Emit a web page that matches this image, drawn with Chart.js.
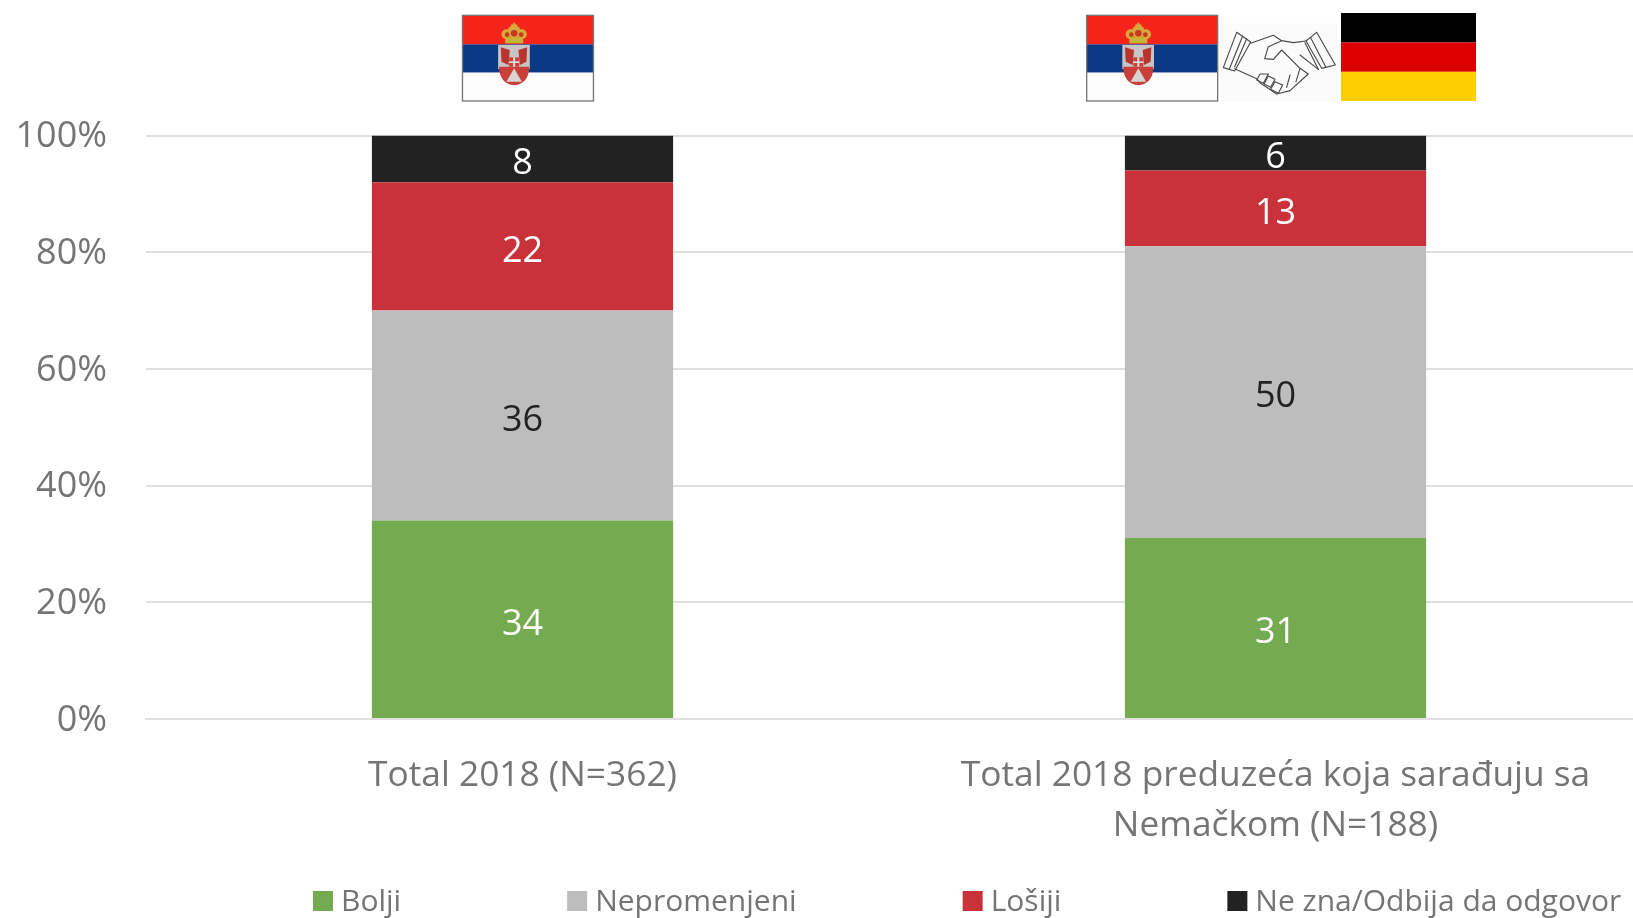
<!DOCTYPE html>
<html><head><meta charset="utf-8">
<style>html,body{margin:0;padding:0;background:#fff;overflow:hidden;width:1633px;height:918px}#wrap{position:absolute;left:0;top:0;width:1652px;height:918px}</style>
<script src="https://cdn.jsdelivr.net/npm/chart.js@4"></script>
</head><body><div id="wrap"><canvas id="c" width="1652" height="918"></canvas></div>
<script>
const categories = [["Total 2018 (N=362)"], ["Total 2018 preduzeća koja sarađuju sa", "Nemačkom (N=188)"]];
const bolji = [34, 31];
const nepromenjeni = [36, 50];
const losiji = [22, 13];
const neZna = [8, 6];
const seriesNames = ["Bolji", "Nepromenjeni", "Lošiji", "Ne zna/Odbija da odgovor"];
const seriesColors = ["#75AB50", "#BDBDBD", "#C9323B", "#222222"];
const labelColors = ["#ffffff", "#222222", "#ffffff", "#ffffff"];
const FONT = '"Open Sans", sans-serif';
const GREY = '#757575';

const valueLabels = {
  id: 'valueLabels',
  afterDatasetsDraw(chart) {
    const ctx = chart.ctx; ctx.save();
    ctx.font = '36px ' + FONT; ctx.textAlign = 'center'; ctx.textBaseline = 'middle';
    chart.data.datasets.forEach((ds, i) => {
      chart.getDatasetMeta(i).data.forEach((bar, j) => {
        ctx.fillStyle = labelColors[i];
        ctx.fillText(String(ds.data[j]), bar.x, (bar.y + bar.base) / 2 + 5);
      });
    });
    ctx.restore();
  }
};
const bottomLegend = {
  id: 'bottomLegend',
  afterDraw(chart) {
    const ctx = chart.ctx; ctx.save();
    ctx.font = '30px ' + FONT; ctx.textBaseline = 'middle'; ctx.textAlign = 'left';
    let x = 313;
    chart.data.datasets.forEach(ds => {
      ctx.fillStyle = ds.backgroundColor; ctx.fillRect(x, 891, 20, 20);
      ctx.fillStyle = GREY; ctx.fillText(ds.label, x + 28, 902);
      x += 28 + ctx.measureText(ds.label).width + 166;
    });
    ctx.restore();
  }
};
function serbia(ctx, ox) {
  ctx.save(); ctx.translate(ox, 0); ctx.scale(1/3, 1/3);
  const L=80,R=473,W=R-L;
  ctx.fillStyle='#F5241B'; ctx.fillRect(L,46,W,87);
  ctx.fillStyle='#0B3A85'; ctx.fillRect(L,133,W,85);
  ctx.fillStyle='#FCFCFC'; ctx.fillRect(L,218,W,85);
  ctx.strokeStyle='#777'; ctx.lineWidth=4; ctx.strokeRect(L,46,W,257);
  // crown
  ctx.fillStyle='#D9A83A';
  [[212,103,15],[258,103,15],[235,96,20]].forEach(c=>{ctx.beginPath();ctx.arc(c[0],c[1],c[2],0,7);ctx.fill();});
  ctx.fillStyle='#C13A22';
  [[214,104,7],[256,104,7],[235,100,10]].forEach(c=>{ctx.beginPath();ctx.arc(c[0],c[1],c[2],0,7);ctx.fill();});
  ctx.fillStyle='#C6B23A'; ctx.fillRect(208,114,54,16);
  ctx.fillStyle='#D9A83A'; ctx.fillRect(232,68,6,20); ctx.fillRect(226,73,18,5);
  // shield: eagle wings
  ctx.fillStyle='#C8C4C4'; ctx.fillRect(187,135,95,72);
  ctx.fillStyle='#C9403A'; ctx.beginPath();
  ctx.moveTo(190,200); ctx.lineTo(280,200); ctx.quadraticCurveTo(280,250,235,256); ctx.quadraticCurveTo(190,250,190,200); ctx.fill();
  ctx.fillStyle='#B8352F';
  ctx.beginPath(); ctx.moveTo(195,142); ctx.lineTo(222,150); ctx.lineTo(218,195); ctx.lineTo(197,185); ctx.closePath(); ctx.fill();
  ctx.beginPath(); ctx.moveTo(274,142); ctx.lineTo(248,150); ctx.lineTo(252,195); ctx.lineTo(272,185); ctx.closePath(); ctx.fill();
  ctx.fillStyle='#C9403A'; ctx.fillRect(220,172,30,28);
  ctx.fillStyle='#E4E0E0'; ctx.fillRect(232,172,6,28); ctx.fillRect(220,184,30,5);
  ctx.fillStyle='#D8D4D4'; ctx.beginPath(); ctx.moveTo(235,205); ctx.lineTo(258,245); ctx.lineTo(212,245); ctx.closePath(); ctx.fill();
  ctx.restore();
}
function handshake(ctx) {
  ctx.save(); ctx.translate(1060, 0); ctx.scale(1/3, 1/3);
  ctx.fillStyle='#FBFBFB'; ctx.fillRect(482,70,352,235);
  ctx.strokeStyle='#4A4A4A'; ctx.lineWidth=3.4; ctx.lineJoin='round'; ctx.lineCap='round';
  const paths=[
    [[530,97],[490,203],[524,213],[572,126],[530,97]],
    [[548,108],[508,207]],[[560,116],[524,200]],
    [[770,97],[738,123],[785,205],[826,195],[770,97]],
    [[752,113],[797,200]],[[735,128],[775,208]],
    [[572,130],[640,106],[665,122],[625,140],[614,176],[640,178],[665,150],[720,205],[745,222],[725,240],[690,272],[650,282],[600,248],[590,236],[524,206]],
    [[665,122],[700,128],[738,123]],
    [[720,165],[775,208]],
    [[720,205],[708,245]],[[690,225],[680,262]],
    [[625,222],[600,222],[590,240],[610,250],[625,222]],
    [[645,238],[625,228],[612,252],[632,262],[645,238]],
    [[668,255],[645,245],[632,268],[655,280],[668,255]]
  ];
  paths.forEach(p=>{ctx.beginPath();p.forEach((q,i)=>i?ctx.lineTo(q[0],q[1]):ctx.moveTo(q[0],q[1]));ctx.stroke();});
  ctx.restore();
}
function germany(ctx) {
  ctx.fillStyle='#000'; ctx.fillRect(1341,13,135,29.5);
  ctx.fillStyle='#DD0000'; ctx.fillRect(1341,42.5,135,29.3);
  ctx.fillStyle='#FFCE00'; ctx.fillRect(1341,71.8,135,29.2);
}
const flags = {
  id: 'flags',
  afterDraw(chart) {
    const ctx = chart.ctx;
    serbia(ctx, 1060 - 624.2);
    serbia(ctx, 1060);
    handshake(ctx);
    germany(ctx);
  }
};
new Chart(document.getElementById('c'), {
  type: 'bar',
  data: {
    labels: categories,
    datasets: [bolji, nepromenjeni, losiji, neZna].map((d, i) => ({
      label: seriesNames[i], data: d, backgroundColor: seriesColors[i],
      categoryPercentage: 0.4, barPercentage: 1, borderWidth: 0
    }))
  },
  options: {
    responsive: false, animation: false, events: [],
    layout: { padding: { top: 135.5, left: 0, right: 0, bottom: 0 } },
    plugins: { legend: { display: false }, tooltip: { enabled: false }, title: { display: false } },
    scales: {
      x: {
        stacked: true,
        afterFit(s) { s.height = 918 - 719; },
        grid: { display: false, drawTicks: false },
        border: { color: '#E0E0E0', width: 2 },
        ticks: { color: GREY, autoSkip: false, maxRotation: 0, minRotation: 0, padding: 32,
                 font: { family: '"Open Sans"', size: 35.3, lineHeight: 1.42 } }
      },
      y: {
        stacked: true, min: 0, max: 100,
        afterFit(s) { s.width = 146; },
        grid: { color: '#E0E0E0', lineWidth: 2, drawTicks: false },
        border: { display: false },
        ticks: { stepSize: 20, color: GREY, padding: 39, labelOffset: 1.5, callback: v => v + '%',
                 font: { family: '"Open Sans"', size: 36 } }
      }
    }
  },
  plugins: [valueLabels, bottomLegend, flags]
});
</script></body></html>
